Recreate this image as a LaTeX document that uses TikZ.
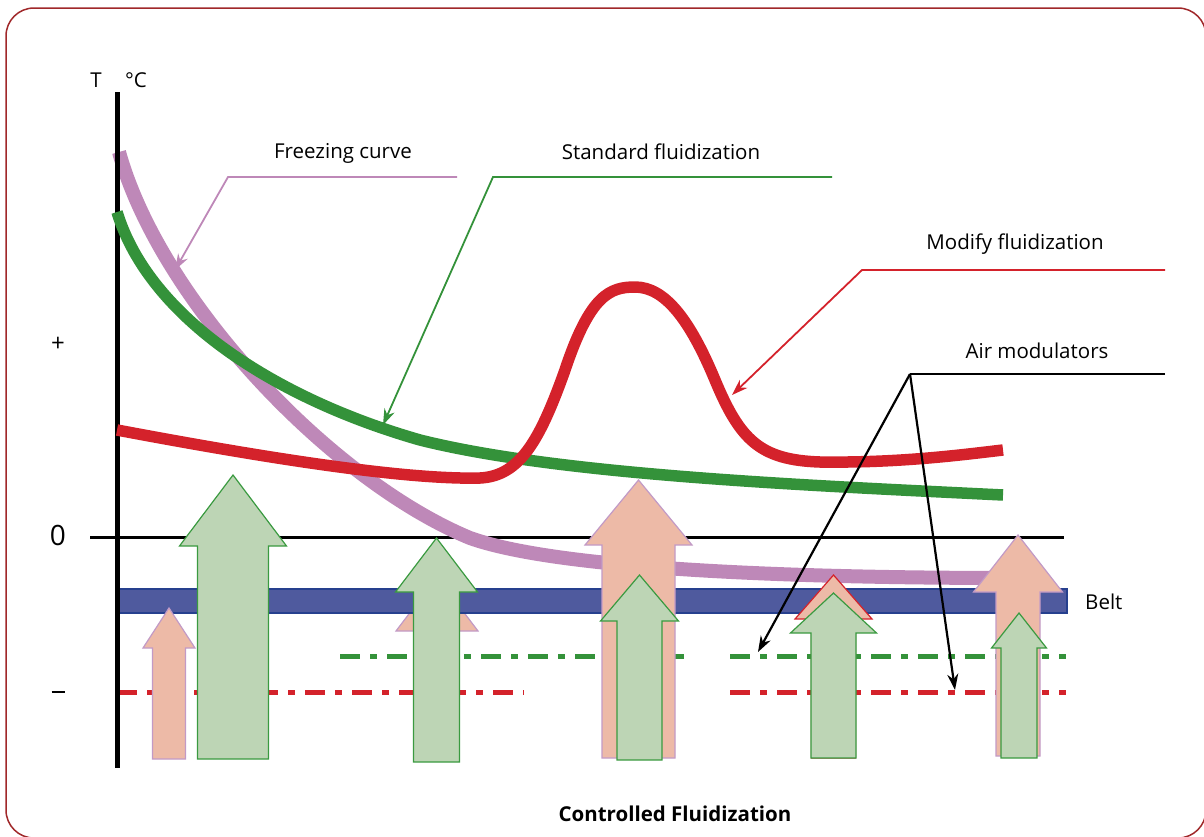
\documentclass[tikz,border=0pt]{standalone}
\usepackage{fontspec}
\setmainfont{Open Sans}
\usetikzlibrary{arrows.meta}
\definecolor{frameC}{HTML}{A0282A}
\definecolor{redC}{HTML}{D4222B}
\definecolor{greenC}{HTML}{34923A}
\definecolor{purpleC}{HTML}{BE88B8}
\definecolor{beltF}{HTML}{4F5A9E}
\definecolor{beltB}{HTML}{26408E}
\definecolor{pinkF}{HTML}{EDBAA7}
\definecolor{pinkB}{HTML}{C29AC6}
\definecolor{greenF}{HTML}{BDD5B5}
\definecolor{greenB}{HTML}{3A9A40}
\newcommand{\blockarr}[7]{% style, cx, shaft half, head half, tip y, base y, bottom y
  \path[#1] ({#2-#3},#7) -- ({#2-#3},#6) -- ({#2-#4},#6) -- (#2,#5) -- ({#2+#4},#6) -- ({#2+#3},#6) -- ({#2+#3},#7) -- cycle;}
\begin{document}
\begin{tikzpicture}[x=1pt,y=-1pt,
  lbl/.style={font=\fontsize{20.5}{24}\selectfont, inner sep=0pt},
  pinkarr/.style={fill=pinkF, draw=pinkB, line width=1.2pt},
  greenarr/.style={fill=greenF, draw=greenB, line width=1.2pt},
  dashdot/.style={line width=5pt, dash pattern=on 20pt off 10pt on 7pt off 10pt},
  leader/.style={line width=1.8pt, -{Stealth[length=16pt,width=11pt]}},
  ]
\useasboundingbox (0,0) rectangle (1204,836);
% frame
\draw[frameC, line width=1.5pt, rounded corners=28pt] (6,8) rectangle (1206,838);
% zero line
\coordinate (z0) at (90,537); \coordinate (z1) at (1064,537);
\draw[line width=3pt] (z0) -- (z1);
% dash-dot lines
\coordinate (g1a) at (340,656); \coordinate (g1b) at (684,656);
\coordinate (g2a) at (730,656); \coordinate (g2b) at (1066,656);
\coordinate (r1a) at (117,692); \coordinate (r1b) at (524,692);
\coordinate (r2a) at (730,692); \coordinate (r2b) at (1066,692);
\draw[dashdot, greenC] (g1a) -- (g1b);
\draw[dashdot, greenC] (g2a) -- (g2b);
\draw[dashdot, redC] (r1a) -- (r1b);
\draw[dashdot, redC] (r2a) -- (r2b);
% freezing curve
\draw[purpleC, line width=14pt] (119,152) .. controls (160,300) and (330,480) .. (470,538) .. controls (560,570) and (800,578) .. (1015,578);
% hidden pink arrow under belt
\blockarr{pinkarr}{437}{18}{41}{577}{631}{758}
% belt
\node[draw=beltB, fill=beltF, line width=2pt, minimum width=949pt, minimum height=24pt, inner sep=0pt, anchor=north west] (belt) at (117,588) {};
% vertical axis
\coordinate (ya) at (117,92); \coordinate (yb) at (117,768);
\draw[line width=5pt] (ya) -- (yb);
% block arrows
\blockarr{pinkarr}{169}{16.5}{26}{608}{648}{759}
\blockarr{greenarr}{233}{35.5}{53.5}{475}{546}{759}
\blockarr{greenarr}{436.5}{23}{41}{538}{592}{762}
\blockarr{pinkarr}{638.5}{36.5}{53.5}{480}{545}{758}
\blockarr{greenarr}{639.5}{22.5}{39}{575}{621}{760}
\blockarr{pinkarr,draw=redC}{833.5}{22}{38.5}{575}{619}{758}
\blockarr{greenarr}{833.5}{22.5}{43}{593}{633}{758}
\blockarr{pinkarr}{1018}{22}{44.5}{535}{592}{756}
\blockarr{greenarr}{1019}{18}{27.5}{613}{648}{758}
% standard curve
\draw[greenC, line width=11.5pt] (117,212) .. controls (150,320) and (280,400) .. (420,440) .. controls (560,475) and (800,485) .. (1003,495);
% modify curve
\draw[redC, line width=11.5pt] (117,430) .. controls (250,455) and (400,480) .. (480,478) .. controls (520,476) and (540,440) .. (565,370) .. controls (590,295) and (610,287) .. (635,287) .. controls (665,287) and (690,320) .. (715,380) .. controls (740,440) and (760,460) .. (820,462) .. controls (900,463) and (960,455) .. (1003,450);
% labels
\node[lbl] (T) at (96,80) {T};
\node[lbl] (degC) at (136,80) {°C};
\node[lbl, font=\fontsize{24}{28}\selectfont] (plus) at (58,344) {+};
\node[lbl, font=\fontsize{28}{32}\selectfont] (zero) at (58,535) {0};
\node[lbl] (minus) at (58,692) {\rule{13pt}{1.8pt}};
\node[lbl] (fz) at (343,153) {Freezing curve};
\node[lbl] (sf) at (661,152) {Standard fluidization};
\node[lbl] (mf) at (1015,244) {Modify fluidization};
\node[lbl] (am) at (1037,351) {Air modulators};
\node[lbl, anchor=west] (beltlbl) at (1085,602) {Belt};
\node[lbl, font=\fontsize{20.5}{24}\selectfont\bfseries] (title) at (675,814) {Controlled Fluidization};
% leaders
\coordinate (fz1) at (457,177); \coordinate (fz2) at (228,177); \coordinate (fz3) at (175,270);
\draw[leader, purpleC] (fz1) -- (fz2) -- (fz3);
\coordinate (sf1) at (832,177); \coordinate (sf2) at (493,177); \coordinate (sf3) at (383,425);
\draw[leader, greenC] (sf1) -- (sf2) -- (sf3);
\coordinate (mf1) at (1165,270); \coordinate (mf2) at (862,270); \coordinate (mf3) at (732,395);
\draw[leader, redC] (mf1) -- (mf2) -- (mf3);
\coordinate (am1) at (1165,374); \coordinate (am2) at (910,374);
\coordinate (am3) at (758,652); \coordinate (am4) at (955,690);
\draw[line width=2pt] (am1) -- (am2);
\draw[leader, black, line width=2.2pt] (am2) -- (am3);
\draw[leader, black, line width=2.2pt] (am2) -- (am4);
\end{tikzpicture}
\end{document}
